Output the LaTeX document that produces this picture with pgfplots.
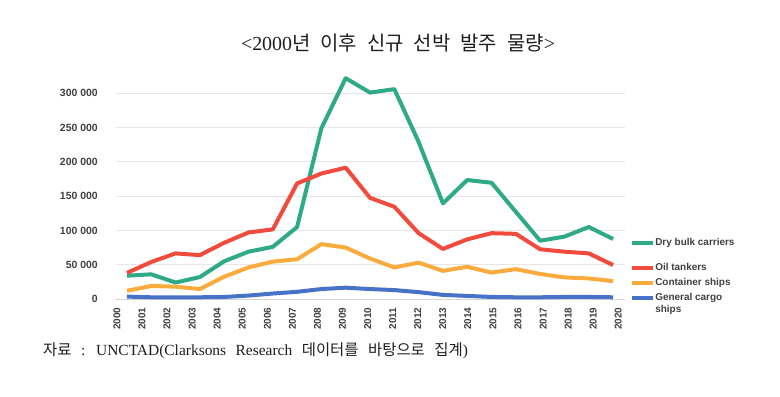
\documentclass[border=0pt]{standalone}
\usepackage{fontspec}
\setmainfont{Liberation Serif}
\setsansfont{Liberation Sans}
\newfontfamily\kr{Noto Sans CJK KR}
\usepackage{pgfplots}
\usepackage{pgfplotstable}
\pgfplotsset{compat=1.18}
\definecolor{cgreen}{HTML}{2EAA86}
\definecolor{cred}{HTML}{F04B3C}
\definecolor{corange}{HTML}{F9AC3D}
\definecolor{cblue}{HTML}{4672C8}
\definecolor{cgrid}{HTML}{E6E6E6}
\definecolor{caxis}{HTML}{D4D4D4}
\definecolor{ctext}{HTML}{404040}
\definecolor{ctitle}{HTML}{1E1E1E}

\pgfplotstableread{
x y
0 34000
1 36000
2 24000
3 32000
4 55000
5 69000
6 76000
7 105000
8 249000
9 322000
10 301000
11 306000
12 229000
13 139500
14 173500
15 169500
16 127000
17 85000
18 91000
19 105000
20 87500
}\drybulk
\pgfplotstableread{
x y
0 38000
1 54000
2 66500
3 64000
4 82000
5 97000
6 101500
7 168500
8 183000
9 191500
10 147500
11 134500
12 96000
13 73000
14 87000
15 96000
16 95000
17 72500
18 69000
19 66500
20 49500
}\oiltank
\pgfplotstableread{
x y
0 12000
1 19000
2 18000
3 14500
4 32500
5 46000
6 54500
7 58000
8 80000
9 75000
10 59000
11 46000
12 53000
13 41000
14 47000
15 38500
16 43500
17 36500
18 31500
19 30000
20 26000
}\container
\pgfplotstableread{
x y
0 3500
1 2500
2 2500
3 2500
4 3000
5 5000
6 8000
7 10500
8 14500
9 16500
10 14500
11 13000
12 10000
13 6000
14 4500
15 3000
16 2500
17 2500
18 3000
19 3000
20 2500
}\general

\begin{document}
\begin{tikzpicture}[x=1bp,y=1bp]
\path[use as bounding box] (0,0) rectangle (780,396);
\node[ctitle, inner sep=0pt, font=\fontsize{20}{22}\selectfont] at (398,353.5) {\spaceskip=10bp <2000{\kr\spaceskip=10bp 년 이후 신규 선박 발주 물량}>};
\node[ctitle, anchor=west, inner sep=0pt, font=\fontsize{15.5}{17}\selectfont] at (43,45) {\spaceskip=9.5bp {\kr 자료} : UNCTAD(Clarksons Research {\kr\spaceskip=9.5bp 데이터를 바탕으로 집계})};
\begin{axis}[
  at={(116bp,97bp)}, anchor=south west,
  scale only axis, width=509bp, height=226.3bp,
  xmin=-0.45, xmax=20.49, ymin=0, ymax=330000,
  scaled y ticks=false,
  axis x line*=bottom, axis y line*=left,
  x axis line style={draw=caxis, line width=1bp, -},
  y axis line style={draw=none},
  major tick length=0pt,
  ymajorgrids, grid style={cgrid, line width=0.9bp},
  ytick={0,50000,100000,150000,200000,250000,300000},
  yticklabels={0,50 000,100 000,150 000,200 000,250 000,300 000},
  yticklabel style={font=\sffamily\bfseries\fontsize{10.5}{12}\selectfont, text=ctext, anchor=east, inner sep=0pt, xshift=-18bp},
  xtick={-0.41,0.62,1.65,2.68,3.71,4.74,5.78,6.81,7.84,8.87,9.90,10.93,11.96,12.99,14.02,15.06,16.09,17.12,18.15,19.18,20.21},
  xticklabels={2000,2001,2002,2003,2004,2005,2006,2007,2008,2009,2010,2011,2012,2013,2014,2015,2016,2017,2018,2019,2020},
  xticklabel style={yshift=-8.5bp, rotate=90, anchor=east, inner sep=0pt, font=\sffamily\bfseries\fontsize{10}{12}\selectfont, text=ctext},
  legend style={at={(1.01,0.272)}, anchor=north west, draw=none, fill=none, inner sep=0pt, row sep=4bp,
    font=\sffamily\bfseries\fontsize{10}{12}\selectfont, text=ctext,
    nodes={inner sep=0pt, text height=8bp, text depth=3bp},
    /tikz/every even column/.append style={column sep=0bp}},
  legend cell align=left,
  legend image code/.code={\draw[#1, line width=3bp] (0bp,0bp) -- (17bp,0bp); \path (0bp,0bp) -- (21bp,0bp);},
  every axis plot/.append style={line width=4bp, line join=round},
]
\addplot[cgreen, mark=none] table[x=x,y=y] {\drybulk};
\addlegendentry{Dry bulk carriers}
\addlegendimage{empty legend}
\addlegendentry[text height=6bp, text depth=0bp]{}
\addplot[cred, mark=none] table[x=x,y=y] {\oiltank};
\addlegendentry{Oil tankers}
\addplot[corange, mark=none] table[x=x,y=y] {\container};
\addlegendentry{Container ships}
\addplot[cblue, mark=none] table[x=x,y=y] {\general};
\addlegendentry{General cargo}
\addlegendimage{empty legend}
\addlegendentry[text height=5bp, text depth=3bp]{ships}
\end{axis}
\end{tikzpicture}
\end{document}
